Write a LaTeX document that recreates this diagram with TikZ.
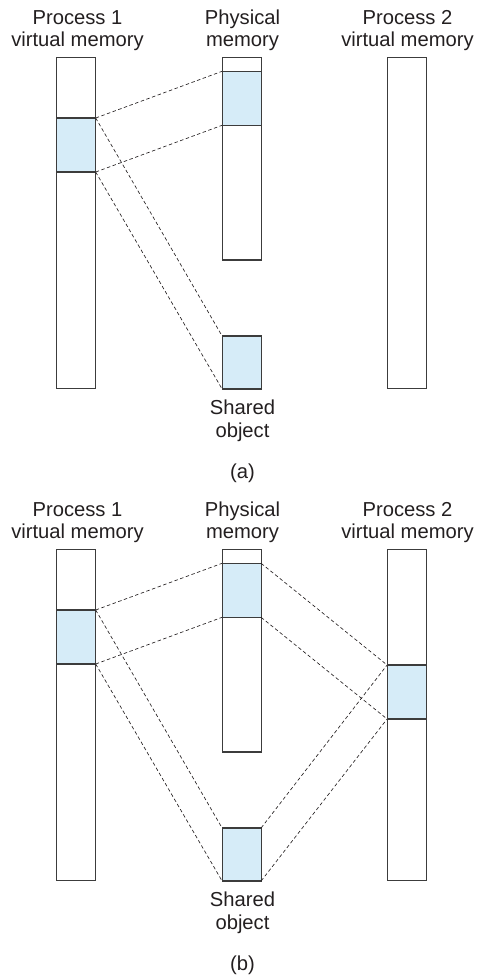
\documentclass[tikz,border=0pt]{standalone}
\usepackage{fontspec}
\setmainfont{Liberation Sans}
\definecolor{shade}{HTML}{D6ECF8}
\definecolor{edge}{HTML}{3C3C3C}
\definecolor{ink}{HTML}{231F20}
\begin{document}
\begin{tikzpicture}[x=1pt,y=-1pt,
  col/.style={draw=edge,line width=1.1pt,fill=white,minimum width=39pt,inner sep=0pt,outer sep=0pt,anchor=north},
  blk/.style={draw=edge,line width=1.1pt,fill=shade,minimum width=39pt,inner sep=0pt,outer sep=0pt,anchor=north},
  lbl/.style={font=\fontsize{20.2}{22.7}\selectfont,text=ink,align=center,inner sep=0pt,anchor=base},
  link/.style={draw=ink,line width=0.65pt,dash pattern=on 3.5pt off 2.5pt}]
\useasboundingbox (0,0) rectangle (477,978);
% ---------- (a) ----------
\node[lbl] (ta1) at (77.5,46.7) {Process 1\\virtual memory};
\node[lbl] (ta2) at (242.5,46.7) {Physical\\memory};
\node[lbl] (ta3) at (407.5,46.7) {Process 2\\virtual memory};
\node[col,minimum height=331.4pt] (pa1) at (76.2,57.3) {};
\node[col,minimum height=202.7pt] (ma) at (241.6,57.3) {};
\node[col,minimum height=331.4pt] (pa2) at (406.6,57.3) {};
\node[blk,minimum height=54pt] (sa1) at (76.2,118) {};
\node[blk,minimum height=54pt] (sma) at (241.6,71.3) {};
\node[blk,minimum height=53pt] (soa) at (241.6,336) {};
\node[lbl] (tsa) at (242.5,437.5) {Shared\\object};
\node[lbl] (capa) at (242.5,478) {(a)};
\draw[link] (sa1.north east) -- (sma.north west);
\draw[link] (sa1.south east) -- (sma.south west);
\draw[link] (sa1.north east) -- (soa.north west);
\draw[link] (sa1.south east) -- (soa.south west);
% ---------- (b) ----------
\node[lbl] (tb1) at (77.5,538.7) {Process 1\\virtual memory};
\node[lbl] (tb2) at (242.5,538.7) {Physical\\memory};
\node[lbl] (tb3) at (407.5,538.7) {Process 2\\virtual memory};
\node[col,minimum height=331.4pt] (pb1) at (76.2,549.3) {};
\node[col,minimum height=202.7pt] (mb) at (241.6,549.3) {};
\node[col,minimum height=331.4pt] (pb2) at (406.6,549.3) {};
\node[blk,minimum height=54pt] (sb1) at (76.2,610) {};
\node[blk,minimum height=54pt] (smb) at (241.6,563.3) {};
\node[blk,minimum height=54pt] (sb2) at (406.6,665) {};
\node[blk,minimum height=53pt] (sob) at (241.6,828) {};
\node[lbl] (tsb) at (242.5,929.5) {Shared\\object};
\node[lbl] (capb) at (242.5,970) {(b)};
\draw[link] (sb1.north east) -- (smb.north west);
\draw[link] (sb1.south east) -- (smb.south west);
\draw[link] (sb1.north east) -- (sob.north west);
\draw[link] (sb1.south east) -- (sob.south west);
\draw[link] (smb.north east) -- (sb2.north west);
\draw[link] (smb.south east) -- (sb2.south west);
\draw[link] (sob.north east) -- (sb2.north west);
\draw[link] (sob.south east) -- (sb2.south west);
\end{tikzpicture}
\end{document}
